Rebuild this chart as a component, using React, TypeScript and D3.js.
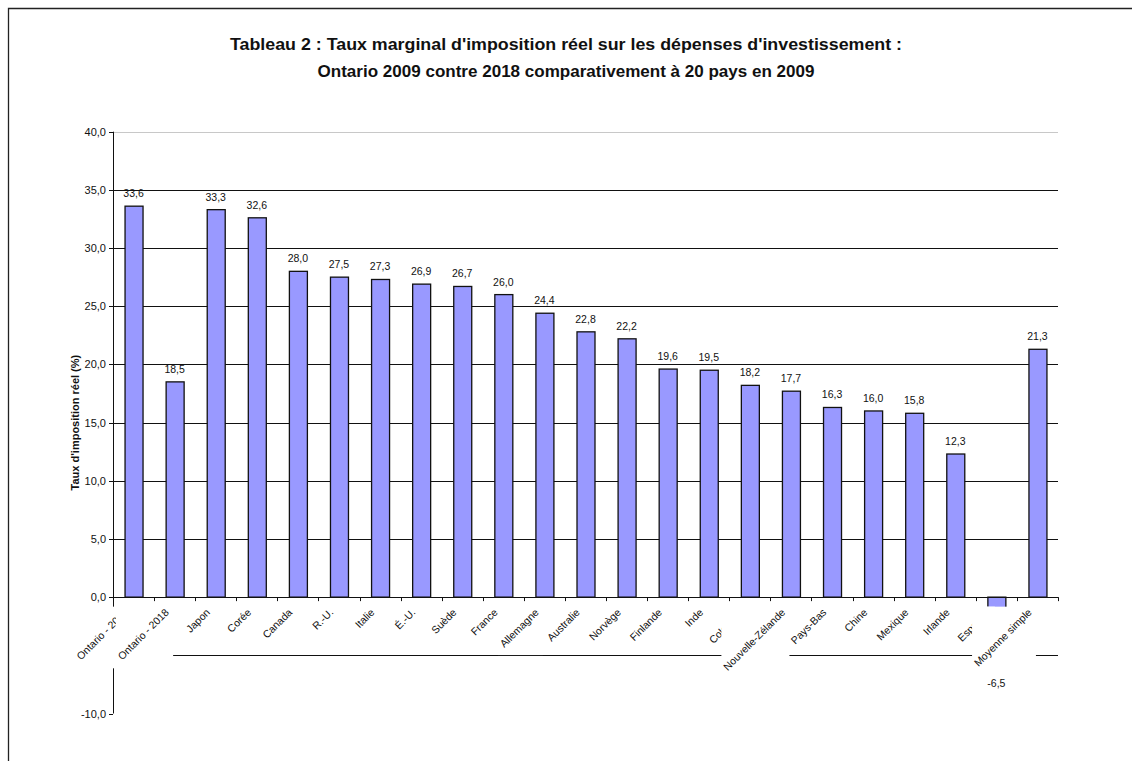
import React from "react";
import * as d3 from "d3";

// Taux marginal d'imposition réel (%) — Ontario 2009 / 2018 et 20 pays (2009)
const categories: string[] = [
  "Ontario - 2009",
  "Ontario - 2018",
  "Japon",
  "Corée",
  "Canada",
  "R.-U.",
  "Italie",
  "É.-U.",
  "Suède",
  "France",
  "Allemagne",
  "Australie",
  "Norvège",
  "Finlande",
  "Inde",
  "Colombie",
  "Nouvelle-Zélande",
  "Pays-Bas",
  "Chine",
  "Mexique",
  "Irlande",
  "Espagne",
  "Moyenne simple",
];

const values: number[] = [
  33.6, 18.5, 33.3, 32.6, 28.0, 27.5, 27.3, 26.9, 26.7, 26.0, 24.4, 22.8, 22.2,
  19.6, 19.5, 18.2, 17.7, 16.3, 16.0, 15.8, 12.3, -6.5, 21.3,
];

const yTicks: number[] = [-10, -5, 0, 5, 10, 15, 20, 25, 30, 35, 40];

const titleLines: string[] = [
  "Tableau 2 : Taux marginal d'imposition réel sur les dépenses d'investissement :",
  "Ontario 2009 contre 2018 comparativement à 20 pays en 2009",
];
const titleWidths: number[] = [672, 497];

const yTitle = "Taux d'imposition réel (%)";

const W = 1132;
const H = 761;
const plot = { left: 113, right: 1058, top: 131.7, bottom: 713.5 };

const FONT = "'Liberation Sans', Arial, Helvetica, sans-serif";
const CAT_FONT_SIZE = 10.5;

const fmt = (v: number) => v.toFixed(1).replace(".", ",");

let measureCtx: CanvasRenderingContext2D | null = null;
function textWidth(s: string, size: number): number {
  if (!measureCtx) {
    const c = document.createElement("canvas");
    measureCtx = c.getContext("2d");
  }
  if (!measureCtx) return s.length * size * 0.55;
  measureCtx.font = `${size}px 'Liberation Sans', Arial, sans-serif`;
  return measureCtx.measureText(s).width;
}

// Axis-aligned box around a text rotated by -45° and anchored at its end.
function rotatedBox(len: number, size: number) {
  const asc = size * 0.72;
  const desc = size * 0.2;
  const c = Math.SQRT1_2;
  const pts = [
    [-len, -asc],
    [0, -asc],
    [-len, desc],
    [0, desc],
  ].map(([px, py]) => [c * px + c * py, -c * px + c * py]);
  const xs = pts.map((p) => p[0]);
  const ys = pts.map((p) => p[1]);
  return {
    x0: Math.min(...xs) - 1,
    x1: Math.max(...xs) + 2,
    y0: Math.min(...ys) - 1,
    y1: Math.max(...ys) + 3 + len * 0.05,
  };
}

export default function App() {
  const x = d3
    .scaleBand<string>()
    .domain(categories)
    .range([plot.left, plot.right])
    .paddingInner(0.562)
    .paddingOuter(0.281);

  const y = d3.scaleLinear().domain([-10, 40]).range([plot.bottom, plot.top]);
  const y0 = y(0);
  const step = x.step();
  const bw = x.bandwidth();

  const boundaries = d3.range(categories.length + 1).map((i) => plot.left + i * step);

  return (
    <div style={{ position: "fixed", left: 0, top: 0, width: W, height: H, background: "#fff" }}>
      <svg width={W} height={H} style={{ display: "block" }} fontFamily={FONT}>
        <rect x={0} y={0} width={W} height={H} fill="#fff" />
        {/* frame */}
        <path d={`M8.5,${H + 5} V8.5 H${W + 5}`} fill="none" stroke="#222" strokeWidth={1.3} />

        {/* title */}
        {titleLines.map((t, i) => (
          <text
            key={t}
            x={566}
            y={50 + i * 27}
            textAnchor="middle"
            fontSize={17}
            fontWeight="bold"
            fill="#111"
            textLength={titleWidths[i]}
            lengthAdjust="spacingAndGlyphs"
          >
            {t}
          </text>
        ))}

        {/* gridlines */}
        {yTicks
          .filter((v) => v !== 0 && v !== -10)
          .map((v) => (
            <line
              key={`g${v}`}
              x1={plot.left}
              x2={plot.right}
              y1={Math.round(y(v)) + 0.5}
              y2={Math.round(y(v)) + 0.5}
              stroke={v === 40 ? "#c8c8c8" : "#111"}
              strokeWidth={1}
            />
          ))}

        {/* bars */}
        {categories.map((c, i) => {
          const v = values[i];
          const top = y(Math.max(0, v));
          const bot = y(Math.min(0, v));
          return (
            <rect
              key={c}
              x={(x(c) as number) + 0.5}
              y={top}
              width={bw}
              height={bot - top}
              fill="#9999FF"
              stroke="#111"
              strokeWidth={1.3}
            />
          );
        })}

        {/* category axis */}
        <line x1={plot.left} x2={plot.right} y1={Math.round(y0) + 0.5} y2={Math.round(y0) + 0.5} stroke="#111" />
        {boundaries.map((bx, i) => (
          <line
            key={`t${i}`}
            x1={Math.round(bx) + 0.5}
            x2={Math.round(bx) + 0.5}
            y1={y0}
            y2={y0 + 4}
            stroke="#111"
          />
        ))}

        {/* value axis */}
        <line x1={plot.left + 0.5} x2={plot.left + 0.5} y1={plot.top} y2={plot.bottom} stroke="#111" />
        {yTicks.map((v) => (
          <g key={`y${v}`}>
            <line
              x1={plot.left - 4}
              x2={plot.left}
              y1={Math.round(y(v)) + 0.5}
              y2={Math.round(y(v)) + 0.5}
              stroke="#111"
            />
            <text x={plot.left - 7} y={y(v) + 4} textAnchor="end" fontSize={11} fill="#111">
              {fmt(v)}
            </text>
          </g>
        ))}

        {/* category labels with opaque backgrounds */}
        {categories.map((c) => {
          const cx = (x(c) as number) + bw / 2;
          const ax = cx - 5;
          const ay = 613;
          const len = textWidth(c, CAT_FONT_SIZE);
          const b = rotatedBox(len, CAT_FONT_SIZE);
          return (
            <g key={`l${c}`}>
              <rect x={ax + b.x0} y={ay + b.y0} width={b.x1 - b.x0} height={b.y1 - b.y0} fill="#fff" />
              <text
                transform={`translate(${ax},${ay}) rotate(-45)`}
                textAnchor="end"
                fontSize={CAT_FONT_SIZE}
                fill="#111"
              >
                {c}
              </text>
            </g>
          );
        })}

        {/* data labels */}
        {categories.map((c, i) => {
          const v = values[i];
          const cx = (x(c) as number) + bw / 2;
          const ty = v >= 0 ? y(v) - 9 : y(v) + 14;
          return (
            <text key={`d${c}`} x={cx} y={ty} textAnchor="middle" fontSize={10.5} fill="#111">
              {fmt(v)}
            </text>
          );
        })}

        {/* value axis title */}
        <text
          transform={`translate(79,${(plot.top + plot.bottom) / 2}) rotate(-90)`}
          textAnchor="middle"
          fontSize={11}
          fontWeight="bold"
          fill="#111"
        >
          {yTitle}
        </text>
      </svg>
    </div>
  );
}
